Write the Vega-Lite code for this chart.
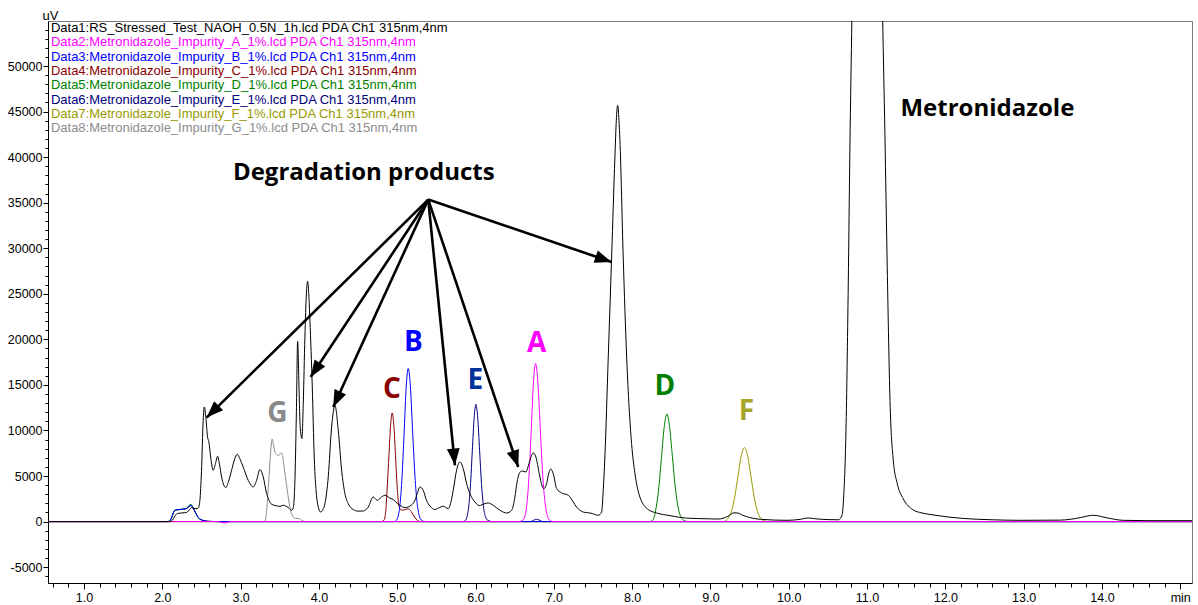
{
  "$schema": "https://vega.github.io/schema/vega-lite/v6.json",
  "width": 1144,
  "height": 562,
  "autosize": {"type": "none"},
  "padding": {"left": 48, "top": 21, "right": 6, "bottom": 22},
  "background": "white",
  "config": {"view": {"stroke": "#7a7a7a", "strokeWidth": 1}, "font": "Liberation Sans"},
  "datasets": {
    "traces": [
      {"series": "Data8", "time": 0.55, "signal": 0}, {"series": "Data8", "time": 3.28, "signal": 0}, {"series": "Data8", "time": 3.31, "signal": 50}, {"series": "Data8", "time": 3.33, "signal": 1000}, {"series": "Data8", "time": 3.352, "signal": 3600}, {"series": "Data8", "time": 3.375, "signal": 6600}, {"series": "Data8", "time": 3.392, "signal": 8500}, {"series": "Data8", "time": 3.404, "signal": 9070}, {"series": "Data8", "time": 3.42, "signal": 8400}, {"series": "Data8", "time": 3.44, "signal": 7600}, {"series": "Data8", "time": 3.46, "signal": 7350}, {"series": "Data8", "time": 3.48, "signal": 7250}, {"series": "Data8", "time": 3.5, "signal": 7400}, {"series": "Data8", "time": 3.524, "signal": 7530}, {"series": "Data8", "time": 3.545, "signal": 6700}, {"series": "Data8", "time": 3.566, "signal": 5300}, {"series": "Data8", "time": 3.59, "signal": 3800}, {"series": "Data8", "time": 3.621, "signal": 1975}, {"series": "Data8", "time": 3.645, "signal": 1000}, {"series": "Data8", "time": 3.672, "signal": 500}, {"series": "Data8", "time": 3.7, "signal": 350}, {"series": "Data8", "time": 3.748, "signal": 330}, {"series": "Data8", "time": 3.78, "signal": 150}, {"series": "Data8", "time": 3.82, "signal": 0}, {"series": "Data8", "time": 15.15, "signal": 0},

      {"series": "Data7", "time": 0.55, "signal": 0}, {"series": "Data7", "time": 9.16, "signal": 0}, {"series": "Data7", "time": 9.183, "signal": 50}, {"series": "Data7", "time": 9.225, "signal": 360}, {"series": "Data7", "time": 9.267, "signal": 1100}, {"series": "Data7", "time": 9.309, "signal": 2640}, {"series": "Data7", "time": 9.35, "signal": 4920}, {"series": "Data7", "time": 9.392, "signal": 7170}, {"series": "Data7", "time": 9.434, "signal": 8120}, {"series": "Data7", "time": 9.476, "signal": 7170}, {"series": "Data7", "time": 9.518, "signal": 4920}, {"series": "Data7", "time": 9.56, "signal": 2640}, {"series": "Data7", "time": 9.6, "signal": 1100}, {"series": "Data7", "time": 9.643, "signal": 360}, {"series": "Data7", "time": 9.685, "signal": 90}, {"series": "Data7", "time": 9.73, "signal": 0}, {"series": "Data7", "time": 15.15, "signal": 0},

      {"series": "Data6", "time": 0.55, "signal": 0}, {"series": "Data6", "time": 2.06, "signal": 0}, {"series": "Data6", "time": 2.09, "signal": 30}, {"series": "Data6", "time": 2.12, "signal": 480}, {"series": "Data6", "time": 2.15, "signal": 1120}, {"series": "Data6", "time": 2.18, "signal": 1280}, {"series": "Data6", "time": 2.22, "signal": 1310}, {"series": "Data6", "time": 2.27, "signal": 1360}, {"series": "Data6", "time": 2.31, "signal": 1430}, {"series": "Data6", "time": 2.34, "signal": 1620}, {"series": "Data6", "time": 2.365, "signal": 1760}, {"series": "Data6", "time": 2.39, "signal": 1530}, {"series": "Data6", "time": 2.42, "signal": 1030}, {"series": "Data6", "time": 2.46, "signal": 440}, {"series": "Data6", "time": 2.52, "signal": 130}, {"series": "Data6", "time": 2.6, "signal": 20}, {"series": "Data6", "time": 2.7, "signal": 0}, {"series": "Data6", "time": 5.83, "signal": 0}, {"series": "Data6", "time": 5.86, "signal": 60}, {"series": "Data6", "time": 5.883, "signal": 300}, {"series": "Data6", "time": 5.914, "signal": 1740}, {"series": "Data6", "time": 5.937, "signal": 4180}, {"series": "Data6", "time": 5.959, "signal": 7800}, {"series": "Data6", "time": 5.982, "signal": 11360}, {"series": "Data6", "time": 6.005, "signal": 12870}, {"series": "Data6", "time": 6.028, "signal": 11360}, {"series": "Data6", "time": 6.052, "signal": 7800}, {"series": "Data6", "time": 6.076, "signal": 4180}, {"series": "Data6", "time": 6.1, "signal": 1740}, {"series": "Data6", "time": 6.126, "signal": 560}, {"series": "Data6", "time": 6.155, "signal": 150}, {"series": "Data6", "time": 6.19, "signal": 30}, {"series": "Data6", "time": 6.22, "signal": 0}, {"series": "Data6", "time": 6.7, "signal": 0}, {"series": "Data6", "time": 6.75, "signal": 180}, {"series": "Data6", "time": 6.78, "signal": 240}, {"series": "Data6", "time": 6.81, "signal": 180}, {"series": "Data6", "time": 6.86, "signal": 0}, {"series": "Data6", "time": 15.15, "signal": 0},

      {"series": "Data5", "time": 0.55, "signal": 0}, {"series": "Data5", "time": 2.06, "signal": 0}, {"series": "Data5", "time": 2.09, "signal": 20}, {"series": "Data5", "time": 2.12, "signal": 400}, {"series": "Data5", "time": 2.15, "signal": 1100}, {"series": "Data5", "time": 2.18, "signal": 1280}, {"series": "Data5", "time": 2.22, "signal": 1320}, {"series": "Data5", "time": 2.27, "signal": 1380}, {"series": "Data5", "time": 2.31, "signal": 1480}, {"series": "Data5", "time": 2.34, "signal": 1750}, {"series": "Data5", "time": 2.365, "signal": 1900}, {"series": "Data5", "time": 2.39, "signal": 1600}, {"series": "Data5", "time": 2.42, "signal": 1050}, {"series": "Data5", "time": 2.46, "signal": 420}, {"series": "Data5", "time": 2.52, "signal": 120}, {"series": "Data5", "time": 2.6, "signal": 20}, {"series": "Data5", "time": 2.7, "signal": 0}, {"series": "Data5", "time": 8.22, "signal": 0}, {"series": "Data5", "time": 8.25, "signal": 60}, {"series": "Data5", "time": 8.274, "signal": 300}, {"series": "Data5", "time": 8.308, "signal": 1600}, {"series": "Data5", "time": 8.342, "signal": 3830}, {"series": "Data5", "time": 8.376, "signal": 7160}, {"series": "Data5", "time": 8.41, "signal": 10410}, {"series": "Data5", "time": 8.444, "signal": 11800}, {"series": "Data5", "time": 8.478, "signal": 10410}, {"series": "Data5", "time": 8.514, "signal": 7160}, {"series": "Data5", "time": 8.55, "signal": 3830}, {"series": "Data5", "time": 8.586, "signal": 1600}, {"series": "Data5", "time": 8.622, "signal": 520}, {"series": "Data5", "time": 8.66, "signal": 130}, {"series": "Data5", "time": 8.7, "signal": 20}, {"series": "Data5", "time": 8.74, "signal": 0}, {"series": "Data5", "time": 15.15, "signal": 0},

      {"series": "Data4", "time": 0.55, "signal": 0}, {"series": "Data4", "time": 4.8, "signal": 0}, {"series": "Data4", "time": 4.83, "signal": 150}, {"series": "Data4", "time": 4.852, "signal": 1000}, {"series": "Data4", "time": 4.873, "signal": 3870}, {"series": "Data4", "time": 4.894, "signal": 7230}, {"series": "Data4", "time": 4.915, "signal": 10520}, {"series": "Data4", "time": 4.936, "signal": 11920}, {"series": "Data4", "time": 4.957, "signal": 10520}, {"series": "Data4", "time": 4.978, "signal": 7230}, {"series": "Data4", "time": 4.999, "signal": 3870}, {"series": "Data4", "time": 5.02, "signal": 1800}, {"series": "Data4", "time": 5.045, "signal": 1300}, {"series": "Data4", "time": 5.08, "signal": 1250}, {"series": "Data4", "time": 5.12, "signal": 1380}, {"series": "Data4", "time": 5.145, "signal": 1400}, {"series": "Data4", "time": 5.18, "signal": 1100}, {"series": "Data4", "time": 5.22, "signal": 500}, {"series": "Data4", "time": 5.26, "signal": 120}, {"series": "Data4", "time": 5.3, "signal": 0}, {"series": "Data4", "time": 15.15, "signal": 0},

      {"series": "Data3", "time": 0.55, "signal": 0}, {"series": "Data3", "time": 2.06, "signal": 0}, {"series": "Data3", "time": 2.09, "signal": 30}, {"series": "Data3", "time": 2.12, "signal": 500}, {"series": "Data3", "time": 2.15, "signal": 1150}, {"series": "Data3", "time": 2.18, "signal": 1300}, {"series": "Data3", "time": 2.22, "signal": 1330}, {"series": "Data3", "time": 2.27, "signal": 1380}, {"series": "Data3", "time": 2.31, "signal": 1450}, {"series": "Data3", "time": 2.34, "signal": 1650}, {"series": "Data3", "time": 2.365, "signal": 1790}, {"series": "Data3", "time": 2.39, "signal": 1550}, {"series": "Data3", "time": 2.42, "signal": 1050}, {"series": "Data3", "time": 2.46, "signal": 450}, {"series": "Data3", "time": 2.52, "signal": 130}, {"series": "Data3", "time": 2.6, "signal": 20}, {"series": "Data3", "time": 2.7, "signal": 0}, {"series": "Data3", "time": 4.96, "signal": 0}, {"series": "Data3", "time": 4.99, "signal": 150}, {"series": "Data3", "time": 5.015, "signal": 700}, {"series": "Data3", "time": 5.04, "signal": 2270}, {"series": "Data3", "time": 5.065, "signal": 5450}, {"series": "Data3", "time": 5.09, "signal": 10180}, {"series": "Data3", "time": 5.115, "signal": 14820}, {"series": "Data3", "time": 5.14, "signal": 16790}, {"series": "Data3", "time": 5.168, "signal": 14820}, {"series": "Data3", "time": 5.195, "signal": 10180}, {"series": "Data3", "time": 5.223, "signal": 5450}, {"series": "Data3", "time": 5.251, "signal": 2270}, {"series": "Data3", "time": 5.278, "signal": 740}, {"series": "Data3", "time": 5.306, "signal": 186}, {"series": "Data3", "time": 5.334, "signal": 37}, {"series": "Data3", "time": 5.37, "signal": 0}, {"series": "Data3", "time": 15.15, "signal": 0},

      {"series": "Data2", "time": 0.55, "signal": 0}, {"series": "Data2", "time": 2.72, "signal": 0}, {"series": "Data2", "time": 2.76, "signal": -120}, {"series": "Data2", "time": 2.8, "signal": -150}, {"series": "Data2", "time": 2.85, "signal": -40}, {"series": "Data2", "time": 2.9, "signal": 0}, {"series": "Data2", "time": 6.56, "signal": 0}, {"series": "Data2", "time": 6.582, "signal": 40}, {"series": "Data2", "time": 6.608, "signal": 190}, {"series": "Data2", "time": 6.635, "signal": 760}, {"series": "Data2", "time": 6.661, "signal": 2350}, {"series": "Data2", "time": 6.687, "signal": 5630}, {"series": "Data2", "time": 6.714, "signal": 10520}, {"series": "Data2", "time": 6.74, "signal": 15300}, {"series": "Data2", "time": 6.767, "signal": 17340}, {"series": "Data2", "time": 6.796, "signal": 15300}, {"series": "Data2", "time": 6.825, "signal": 10520}, {"series": "Data2", "time": 6.854, "signal": 5630}, {"series": "Data2", "time": 6.884, "signal": 2350}, {"series": "Data2", "time": 6.913, "signal": 760}, {"series": "Data2", "time": 6.942, "signal": 190}, {"series": "Data2", "time": 6.971, "signal": 40}, {"series": "Data2", "time": 7.0, "signal": 0}, {"series": "Data2", "time": 15.15, "signal": 0},

      {"series": "Data1", "time": 0.55, "signal": 0}, {"series": "Data1", "time": 1.5, "signal": 0}, {"series": "Data1", "time": 2.1, "signal": 0}, {"series": "Data1", "time": 2.13, "signal": 150}, {"series": "Data1", "time": 2.16, "signal": 600}, {"series": "Data1", "time": 2.19, "signal": 880}, {"series": "Data1", "time": 2.25, "signal": 950}, {"series": "Data1", "time": 2.31, "signal": 1000}, {"series": "Data1", "time": 2.35, "signal": 1350}, {"series": "Data1", "time": 2.375, "signal": 1540}, {"series": "Data1", "time": 2.4, "signal": 1450}, {"series": "Data1", "time": 2.43, "signal": 1420}, {"series": "Data1", "time": 2.46, "signal": 1500}, {"series": "Data1", "time": 2.48, "signal": 2340}, {"series": "Data1", "time": 2.5, "signal": 5500}, {"series": "Data1", "time": 2.522, "signal": 11120}, {"series": "Data1", "time": 2.537, "signal": 12580}, {"series": "Data1", "time": 2.557, "signal": 11300}, {"series": "Data1", "time": 2.578, "signal": 9290}, {"series": "Data1", "time": 2.595, "signal": 8740}, {"series": "Data1", "time": 2.617, "signal": 7090}, {"series": "Data1", "time": 2.65, "signal": 5630}, {"series": "Data1", "time": 2.68, "signal": 6400}, {"series": "Data1", "time": 2.706, "signal": 7170}, {"series": "Data1", "time": 2.73, "signal": 6300}, {"series": "Data1", "time": 2.757, "signal": 4900}, {"series": "Data1", "time": 2.785, "signal": 4000}, {"series": "Data1", "time": 2.812, "signal": 3730}, {"series": "Data1", "time": 2.845, "signal": 4400}, {"series": "Data1", "time": 2.885, "signal": 5630}, {"series": "Data1", "time": 2.925, "signal": 6900}, {"series": "Data1", "time": 2.957, "signal": 7390}, {"series": "Data1", "time": 2.99, "signal": 6900}, {"series": "Data1", "time": 3.033, "signal": 5990}, {"series": "Data1", "time": 3.097, "signal": 4530}, {"series": "Data1", "time": 3.161, "signal": 3800}, {"series": "Data1", "time": 3.204, "signal": 4530}, {"series": "Data1", "time": 3.246, "signal": 5710}, {"series": "Data1", "time": 3.289, "signal": 4900}, {"series": "Data1", "time": 3.332, "signal": 3070}, {"series": "Data1", "time": 3.365, "signal": 2300}, {"series": "Data1", "time": 3.396, "signal": 1900}, {"series": "Data1", "time": 3.45, "signal": 1750}, {"series": "Data1", "time": 3.502, "signal": 1680}, {"series": "Data1", "time": 3.544, "signal": 1790}, {"series": "Data1", "time": 3.608, "signal": 1540}, {"series": "Data1", "time": 3.651, "signal": 1240}, {"series": "Data1", "time": 3.672, "signal": 1500}, {"series": "Data1", "time": 3.695, "signal": 5000}, {"series": "Data1", "time": 3.712, "signal": 12000}, {"series": "Data1", "time": 3.728, "signal": 19790}, {"series": "Data1", "time": 3.745, "signal": 15000}, {"series": "Data1", "time": 3.76, "signal": 10500}, {"series": "Data1", "time": 3.783, "signal": 9110}, {"series": "Data1", "time": 3.8, "signal": 13000}, {"series": "Data1", "time": 3.821, "signal": 20260}, {"series": "Data1", "time": 3.84, "signal": 25000}, {"series": "Data1", "time": 3.856, "signal": 26370}, {"series": "Data1", "time": 3.87, "signal": 25000}, {"series": "Data1", "time": 3.885, "signal": 22090}, {"series": "Data1", "time": 3.915, "signal": 14770}, {"series": "Data1", "time": 3.94, "signal": 7090}, {"series": "Data1", "time": 3.971, "signal": 2700}, {"series": "Data1", "time": 3.995, "signal": 1500}, {"series": "Data1", "time": 4.022, "signal": 1055}, {"series": "Data1", "time": 4.05, "signal": 1300}, {"series": "Data1", "time": 4.077, "signal": 1975}, {"series": "Data1", "time": 4.119, "signal": 4900}, {"series": "Data1", "time": 4.162, "signal": 10380}, {"series": "Data1", "time": 4.204, "signal": 12760}, {"series": "Data1", "time": 4.247, "signal": 10020}, {"series": "Data1", "time": 4.29, "signal": 5630}, {"series": "Data1", "time": 4.332, "signal": 3070}, {"series": "Data1", "time": 4.374, "signal": 1975}, {"series": "Data1", "time": 4.438, "signal": 1320}, {"series": "Data1", "time": 4.5, "signal": 1150}, {"series": "Data1", "time": 4.566, "signal": 1165}, {"series": "Data1", "time": 4.63, "signal": 1600}, {"series": "Data1", "time": 4.693, "signal": 2700}, {"series": "Data1", "time": 4.745, "signal": 2340}, {"series": "Data1", "time": 4.8, "signal": 2700}, {"series": "Data1", "time": 4.843, "signal": 2890}, {"series": "Data1", "time": 4.9, "signal": 2600}, {"series": "Data1", "time": 4.949, "signal": 2415}, {"series": "Data1", "time": 5.0, "signal": 2000}, {"series": "Data1", "time": 5.034, "signal": 1790}, {"series": "Data1", "time": 5.098, "signal": 1535}, {"series": "Data1", "time": 5.162, "signal": 1700}, {"series": "Data1", "time": 5.226, "signal": 2340}, {"series": "Data1", "time": 5.26, "signal": 3200}, {"series": "Data1", "time": 5.29, "signal": 3800}, {"series": "Data1", "time": 5.332, "signal": 3435}, {"series": "Data1", "time": 5.375, "signal": 2300}, {"series": "Data1", "time": 5.42, "signal": 1700}, {"series": "Data1", "time": 5.481, "signal": 1320}, {"series": "Data1", "time": 5.53, "signal": 1500}, {"series": "Data1", "time": 5.588, "signal": 1680}, {"series": "Data1", "time": 5.651, "signal": 1430}, {"series": "Data1", "time": 5.69, "signal": 2300}, {"series": "Data1", "time": 5.715, "signal": 3435}, {"series": "Data1", "time": 5.758, "signal": 5630}, {"series": "Data1", "time": 5.801, "signal": 6540}, {"series": "Data1", "time": 5.843, "signal": 5815}, {"series": "Data1", "time": 5.886, "signal": 4170}, {"series": "Data1", "time": 5.928, "signal": 3070}, {"series": "Data1", "time": 5.992, "signal": 2150}, {"series": "Data1", "time": 6.047, "signal": 1755}, {"series": "Data1", "time": 6.12, "signal": 1975}, {"series": "Data1", "time": 6.162, "signal": 2040}, {"series": "Data1", "time": 6.226, "signal": 1790}, {"series": "Data1", "time": 6.312, "signal": 1240}, {"series": "Data1", "time": 6.397, "signal": 945}, {"series": "Data1", "time": 6.461, "signal": 1240}, {"series": "Data1", "time": 6.503, "signal": 2700}, {"series": "Data1", "time": 6.53, "signal": 4300}, {"series": "Data1", "time": 6.558, "signal": 5270}, {"series": "Data1", "time": 6.589, "signal": 5550}, {"series": "Data1", "time": 6.62, "signal": 5500}, {"series": "Data1", "time": 6.644, "signal": 5445}, {"series": "Data1", "time": 6.67, "signal": 6000}, {"series": "Data1", "time": 6.695, "signal": 6730}, {"series": "Data1", "time": 6.737, "signal": 7530}, {"series": "Data1", "time": 6.771, "signal": 7090}, {"series": "Data1", "time": 6.814, "signal": 5270}, {"series": "Data1", "time": 6.85, "signal": 3900}, {"series": "Data1", "time": 6.873, "signal": 3620}, {"series": "Data1", "time": 6.908, "signal": 4170}, {"series": "Data1", "time": 6.935, "signal": 5300}, {"series": "Data1", "time": 6.959, "signal": 5770}, {"series": "Data1", "time": 6.992, "signal": 5270}, {"series": "Data1", "time": 7.036, "signal": 3620}, {"series": "Data1", "time": 7.1, "signal": 3140}, {"series": "Data1", "time": 7.184, "signal": 2890}, {"series": "Data1", "time": 7.248, "signal": 2150}, {"series": "Data1", "time": 7.29, "signal": 1600}, {"series": "Data1", "time": 7.333, "signal": 1240}, {"series": "Data1", "time": 7.4, "signal": 1000}, {"series": "Data1", "time": 7.461, "signal": 945}, {"series": "Data1", "time": 7.52, "signal": 800}, {"series": "Data1", "time": 7.567, "signal": 690}, {"series": "Data1", "time": 7.61, "signal": 1055}, {"series": "Data1", "time": 7.631, "signal": 3435}, {"series": "Data1", "time": 7.652, "signal": 7090}, {"series": "Data1", "time": 7.695, "signal": 18065}, {"series": "Data1", "time": 7.738, "signal": 29040}, {"series": "Data1", "time": 7.78, "signal": 40015}, {"series": "Data1", "time": 7.798, "signal": 44040}, {"series": "Data1", "time": 7.815, "signal": 45690}, {"series": "Data1", "time": 7.832, "signal": 44040}, {"series": "Data1", "time": 7.844, "signal": 41850}, {"series": "Data1", "time": 7.886, "signal": 29040}, {"series": "Data1", "time": 7.93, "signal": 18065}, {"series": "Data1", "time": 7.993, "signal": 8560}, {"series": "Data1", "time": 8.036, "signal": 5270}, {"series": "Data1", "time": 8.099, "signal": 2700}, {"series": "Data1", "time": 8.206, "signal": 1320}, {"series": "Data1", "time": 8.313, "signal": 945}, {"series": "Data1", "time": 8.483, "signal": 650}, {"series": "Data1", "time": 8.696, "signal": 380}, {"series": "Data1", "time": 9.0, "signal": 300}, {"series": "Data1", "time": 9.099, "signal": 280}, {"series": "Data1", "time": 9.222, "signal": 580}, {"series": "Data1", "time": 9.3, "signal": 960}, {"series": "Data1", "time": 9.34, "signal": 950}, {"series": "Data1", "time": 9.415, "signal": 690}, {"series": "Data1", "time": 9.5, "signal": 450}, {"series": "Data1", "time": 9.636, "signal": 250}, {"series": "Data1", "time": 9.977, "signal": 140}, {"series": "Data1", "time": 10.15, "signal": 250}, {"series": "Data1", "time": 10.245, "signal": 400}, {"series": "Data1", "time": 10.33, "signal": 320}, {"series": "Data1", "time": 10.416, "signal": 250}, {"series": "Data1", "time": 10.635, "signal": 200}, {"series": "Data1", "time": 10.68, "signal": 700}, {"series": "Data1", "time": 10.7, "signal": 2500}, {"series": "Data1", "time": 10.731, "signal": 10000}, {"series": "Data1", "time": 10.76, "signal": 26000}, {"series": "Data1", "time": 10.781, "signal": 41000}, {"series": "Data1", "time": 10.807, "signal": 55500}, {"series": "Data1", "time": 11.003, "signal": 200000}, {"series": "Data1", "time": 11.199, "signal": 55500}, {"series": "Data1", "time": 11.228, "signal": 42600}, {"series": "Data1", "time": 11.258, "signal": 27900}, {"series": "Data1", "time": 11.293, "signal": 13300}, {"series": "Data1", "time": 11.335, "signal": 6730}, {"series": "Data1", "time": 11.386, "signal": 4170}, {"series": "Data1", "time": 11.462, "signal": 2500}, {"series": "Data1", "time": 11.586, "signal": 1300}, {"series": "Data1", "time": 11.7, "signal": 950}, {"series": "Data1", "time": 11.829, "signal": 750}, {"series": "Data1", "time": 12.22, "signal": 350}, {"series": "Data1", "time": 12.6, "signal": 200}, {"series": "Data1", "time": 12.95, "signal": 140}, {"series": "Data1", "time": 13.46, "signal": 160}, {"series": "Data1", "time": 13.6, "signal": 250}, {"series": "Data1", "time": 13.73, "signal": 450}, {"series": "Data1", "time": 13.89, "signal": 690}, {"series": "Data1", "time": 14.07, "signal": 400}, {"series": "Data1", "time": 14.27, "signal": 140}, {"series": "Data1", "time": 14.6, "signal": 100}, {"series": "Data1", "time": 15.15, "signal": 100}
    ],
    "captions": [
      {"series": "Data1", "time": 0.577, "signal": 53745, "label": "Data1:RS_Stressed_Test_NAOH_0.5N_1h.lcd PDA Ch1 315nm,4nm"},
      {"series": "Data2", "time": 0.577, "signal": 52172, "label": "Data2:Metronidazole_Impurity_A_1%.lcd PDA Ch1 315nm,4nm"},
      {"series": "Data3", "time": 0.577, "signal": 50600, "label": "Data3:Metronidazole_Impurity_B_1%.lcd PDA Ch1 315nm,4nm"},
      {"series": "Data4", "time": 0.577, "signal": 49027, "label": "Data4:Metronidazole_Impurity_C_1%.lcd PDA Ch1 315nm,4nm"},
      {"series": "Data5", "time": 0.577, "signal": 47454, "label": "Data5:Metronidazole_Impurity_D_1%.lcd PDA Ch1 315nm,4nm"},
      {"series": "Data6", "time": 0.577, "signal": 45882, "label": "Data6:Metronidazole_Impurity_E_1%.lcd PDA Ch1 315nm,4nm"},
      {"series": "Data7", "time": 0.577, "signal": 44309, "label": "Data7:Metronidazole_Impurity_F_1%.lcd PDA Ch1 315nm,4nm"},
      {"series": "Data8", "time": 0.577, "signal": 42736, "label": "Data8:Metronidazole_Impurity_G_1%.lcd PDA Ch1 315nm,4nm"}
    ],
    "tags": [
      {"label": "G", "time": 3.47, "signal": 10900},
      {"label": "C", "time": 4.932, "signal": 13610},
      {"label": "B", "time": 5.207, "signal": 18720},
      {"label": "E", "time": 5.999, "signal": 14600},
      {"label": "A", "time": 6.78, "signal": 18610},
      {"label": "D", "time": 8.419, "signal": 13860},
      {"label": "F", "time": 9.46, "signal": 11120}
    ],
    "callouts": [
      {"label": "Degradation products", "time": 4.573, "signal": 37535},
      {"label": "Metronidazole", "time": 12.537, "signal": 44480}
    ],
    "arrows": [
      {"id": 1, "time": 2.566, "signal": 11414, "time2": 5.396, "signal2": 35340},
      {"id": 2, "time": 3.894, "signal": 15870, "time2": 5.396, "signal2": 35340},
      {"id": 3, "time": 4.183, "signal": 12577, "time2": 5.396, "signal2": 35340},
      {"id": 4, "time": 5.737, "signal": 6179, "time2": 5.396, "signal2": 35340},
      {"id": 5, "time": 6.545, "signal": 5992, "time2": 5.396, "signal2": 35340},
      {"id": 6, "time": 7.738, "signal": 28491, "time2": 5.396, "signal2": 35340}
    ]
  },
  "layer": [
    {
      "data": {"name": "traces"},
      "transform": [{"filter": "datum.series !== 'Data1'"}],
      "mark": {"type": "line", "clip": true, "strokeWidth": 1, "interpolate": "monotone"},
      "encoding": {
        "x": {
          "field": "time", "type": "quantitative",
          "scale": {"domain": [0.54, 15.15], "nice": false, "zero": false},
          "axis": {
            "title": null,
            "tickCount": 200,
            "values": [0.6, 0.8, 1, 1.2, 1.4, 1.6, 1.8, 2, 2.2, 2.4, 2.6, 2.8, 3, 3.2, 3.4, 3.6, 3.8, 4, 4.2, 4.4, 4.6, 4.8, 5, 5.2, 5.4, 5.6, 5.8, 6, 6.2, 6.4, 6.6, 6.8, 7, 7.2, 7.4, 7.6, 7.8, 8, 8.2, 8.4, 8.6, 8.8, 9, 9.2, 9.4, 9.6, 9.8, 10, 10.2, 10.4, 10.6, 10.8, 11, 11.2, 11.4, 11.6, 11.8, 12, 12.2, 12.4, 12.6, 12.8, 13, 13.2, 13.4, 13.6, 13.8, 14, 14.2, 14.4, 14.6, 14.8, 15],
            "labelExpr": "abs(datum.value - round(datum.value)) < 0.001 ? (datum.value > 14.9 ? 'min' : format(datum.value, '.1f')) : ''",
            "labelFont": "Liberation Sans", "labelFontSize": 12.5, "labelColor": "#000", "labelPadding": 2,
            "labelOverlap": false, "labelFlush": false,
            "tickColor": "#000",
            "tickSize": {"condition": {"test": "abs(datum.value - round(datum.value)) < 0.001", "value": 6}, "value": 4},
            "domainColor": "#000", "grid": false
          }
        },
        "y": {
          "field": "signal", "type": "quantitative",
          "scale": {"domain": [-6740, 54940], "nice": false, "zero": false},
          "axis": {
            "title": "uV", "titleAngle": 0, "titleAlign": "center", "titleBaseline": "alphabetic",
            "titleX": 2, "titleY": -2, "titleFont": "Liberation Sans", "titleFontSize": 13,
            "titleFontWeight": "normal", "titleColor": "#000",
            "tickCount": 200,
            "values": [-6000, -5000, -4000, -3000, -2000, -1000, 0, 1000, 2000, 3000, 4000, 5000, 6000, 7000, 8000, 9000, 10000, 11000, 12000, 13000, 14000, 15000, 16000, 17000, 18000, 19000, 20000, 21000, 22000, 23000, 24000, 25000, 26000, 27000, 28000, 29000, 30000, 31000, 32000, 33000, 34000, 35000, 36000, 37000, 38000, 39000, 40000, 41000, 42000, 43000, 44000, 45000, 46000, 47000, 48000, 49000, 50000, 51000, 52000, 53000, 54000],
            "labelExpr": "datum.value % 5000 === 0 ? '' + datum.value : ''",
            "labelFont": "Liberation Sans", "labelFontSize": 12.5, "labelColor": "#000", "labelPadding": 1,
            "labelOverlap": false, "labelFlush": false,
            "tickColor": "#000",
            "tickSize": {"condition": {"test": "datum.value % 5000 === 0", "value": 5}, "value": 3},
            "domainColor": "#000", "grid": false
          }
        },
        "color": {
          "field": "series", "type": "nominal",
          "scale": {"domain": ["Data1", "Data2", "Data3", "Data4", "Data5", "Data6", "Data7", "Data8"], "range": ["#000000", "#ff00ff", "#0000ff", "#8b0000", "#008000", "#000080", "#999900", "#8c8c8c"]},
          "legend": null
        }
      }
    },
    {
      "data": {"name": "traces"},
      "transform": [{"filter": "datum.series === 'Data1'"}],
      "mark": {"type": "line", "clip": true, "strokeWidth": 1, "interpolate": "monotone", "color": "#000000"},
      "encoding": {
        "x": {"field": "time", "type": "quantitative"},
        "y": {"field": "signal", "type": "quantitative"}
      }
    },
    {
      "data": {"name": "arrows"},
      "mark": {"type": "rule", "color": "#000000", "strokeWidth": 2.6, "strokeCap": "butt"},
      "encoding": {
        "x": {"field": "time", "type": "quantitative"},
        "y": {"field": "signal", "type": "quantitative"},
        "x2": {"field": "time2"},
        "y2": {"field": "signal2"}
      }
    },
    {
      "data": {"name": "arrows"},
      "mark": {
        "type": "point", "shape": "M0,0L0.8,2.1L-0.8,2.1Z", "filled": true, "color": "#000000",
        "size": 256, "opacity": 1, "strokeWidth": 0,
        "angle": {"expr": "atan2(scale('x', datum.time) - scale('x', datum.time2), scale('y', datum.signal2) - scale('y', datum.signal)) * 180 / PI"}
      },
      "encoding": {
        "x": {"field": "time", "type": "quantitative"},
        "y": {"field": "signal", "type": "quantitative"}
      }
    },
    {
      "data": {"name": "captions"},
      "mark": {"type": "text", "align": "left", "baseline": "alphabetic", "font": "Liberation Sans", "fontSize": 13},
      "encoding": {
        "x": {"field": "time", "type": "quantitative"},
        "y": {"field": "signal", "type": "quantitative"},
        "text": {"field": "label"},
        "color": {
          "field": "series", "type": "nominal",
          "scale": {"domain": ["Data1", "Data2", "Data3", "Data4", "Data5", "Data6", "Data7", "Data8"], "range": ["#000000", "#ff00ff", "#0000ff", "#8b0000", "#008000", "#000080", "#999900", "#8c8c8c"]},
          "legend": null
        }
      }
    },
    {
      "data": {"name": "tags"},
      "mark": {"type": "text", "align": "center", "baseline": "alphabetic", "font": "Open Sans", "fontWeight": "bold", "fontSize": 28},
      "encoding": {
        "x": {"field": "time", "type": "quantitative"},
        "y": {"field": "signal", "type": "quantitative"},
        "text": {"field": "label"},
        "fill": {
          "field": "label", "type": "nominal",
          "scale": {"domain": ["A", "B", "C", "D", "E", "F", "G"], "range": ["#ff00ff", "#0000ff", "#8b0000", "#008000", "#003399", "#a5a52a", "#8a8a8a"]},
          "legend": null
        }
      }
    },
    {
      "data": {"name": "callouts"},
      "mark": {"type": "text", "align": "center", "baseline": "alphabetic", "font": "Open Sans", "fontWeight": "bold", "fontSize": 24, "color": "#000000"},
      "encoding": {
        "x": {"field": "time", "type": "quantitative"},
        "y": {"field": "signal", "type": "quantitative"},
        "text": {"field": "label"}
      }
    }
  ]
}
